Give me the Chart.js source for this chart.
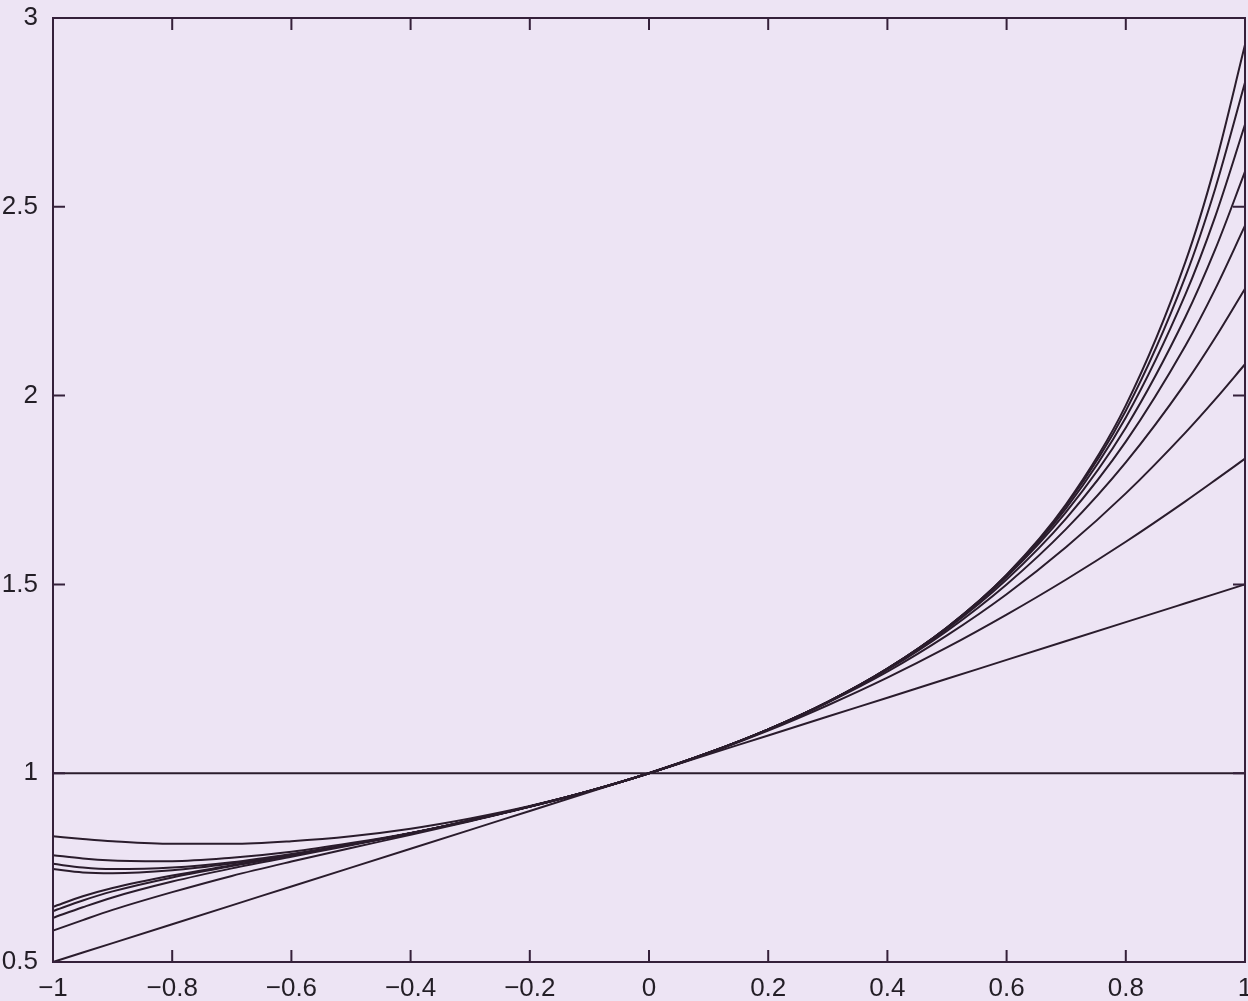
<!DOCTYPE html>
<html>
<head>
<meta charset="utf-8">
<script src="https://cdn.jsdelivr.net/npm/chart.js@4"></script>
<style>
  html, body { margin: 0; padding: 0; background: #ede4f4; }
  #wrap { width: 1248px; height: 1001px; }
</style>
</head>
<body>
<div id="wrap"><canvas id="c"></canvas></div>
<script>
// x positions where the curves were read
const xs = [-1, -0.95, -0.9, -0.8, -0.7, -0.6, -0.5, -0.4, -0.3, -0.2, -0.1, 0,
            0.1, 0.2, 0.3, 0.4, 0.5, 0.6, 0.7, 0.8, 0.9, 0.95, 1];

const curve0 = [1, 1, 1, 1, 1, 1, 1, 1, 1, 1, 1, 1, 1, 1, 1, 1, 1, 1, 1, 1, 1, 1, 1];
const curve1 = [0.5, 0.525, 0.55, 0.6, 0.65, 0.7, 0.75, 0.8, 0.85, 0.9, 0.95, 1, 1.05, 1.1, 1.15, 1.2, 1.25, 1.3, 1.35, 1.4, 1.45, 1.475, 1.5];
const curve2 = [0.833, 0.826, 0.82, 0.813, 0.813, 0.82, 0.833, 0.853, 0.88, 0.913, 0.953, 1, 1.053, 1.113, 1.18, 1.253, 1.333, 1.42, 1.513, 1.613, 1.72, 1.776, 1.833];
const curve3 = [0.583, 0.611, 0.638, 0.685, 0.728, 0.766, 0.802, 0.837, 0.873, 0.911, 0.953, 1, 1.054, 1.115, 1.187, 1.269, 1.365, 1.474, 1.599, 1.741, 1.902, 1.99, 2.083];
const curve4 = [0.783, 0.774, 0.769, 0.767, 0.776, 0.792, 0.815, 0.842, 0.875, 0.912, 0.953, 1, 1.054, 1.116, 1.188, 1.274, 1.377, 1.5, 1.647, 1.823, 2.033, 2.153, 2.283];
const curve5 = [0.617, 0.645, 0.671, 0.713, 0.748, 0.779, 0.809, 0.841, 0.874, 0.912, 0.953, 1, 1.054, 1.116, 1.189, 1.276, 1.382, 1.513, 1.675, 1.878, 2.132, 2.282, 2.45];
const curve6 = [0.76, 0.75, 0.746, 0.75, 0.764, 0.786, 0.812, 0.841, 0.875, 0.912, 0.953, 1, 1.054, 1.116, 1.189, 1.277, 1.385, 1.52, 1.692, 1.915, 2.208, 2.387, 2.593];
const curve7 = [0.635, 0.663, 0.687, 0.724, 0.754, 0.782, 0.811, 0.841, 0.875, 0.912, 0.953, 1, 1.054, 1.116, 1.189, 1.277, 1.386, 1.523, 1.702, 1.942, 2.268, 2.474, 2.718];
const curve8 = [0.746, 0.737, 0.735, 0.743, 0.761, 0.784, 0.811, 0.841, 0.875, 0.912, 0.953, 1, 1.054, 1.116, 1.189, 1.277, 1.386, 1.525, 1.709, 1.96, 2.315, 2.548, 2.829];
const curve9 = [0.646, 0.674, 0.696, 0.729, 0.756, 0.783, 0.811, 0.841, 0.875, 0.912, 0.953, 1, 1.054, 1.116, 1.189, 1.277, 1.386, 1.526, 1.713, 1.974, 2.354, 2.611, 2.929];

const curves = [curve0, curve1, curve2, curve3, curve4, curve5, curve6, curve7, curve8, curve9];

const xTicks = [-1, -0.8, -0.6, -0.4, -0.2, 0, 0.2, 0.4, 0.6, 0.8, 1];
const yTicks = [0.5, 1, 1.5, 2, 2.5, 3];

const ink = "#2a1c2c";
const labelColor = "#231e26";

// frame + inward tick marks on all four sides
const framePlugin = {
  id: "frame",
  afterDraw(chart) {
    const { ctx, chartArea: a, scales } = chart;
    const len = 12;
    ctx.save();
    ctx.strokeStyle = "#35203a";
    ctx.lineWidth = 2;
    ctx.strokeRect(a.left, a.top, a.right - a.left, a.bottom - a.top);
    ctx.beginPath();
    xTicks.forEach(v => {
      const px = scales.x.getPixelForValue(v);
      ctx.moveTo(px, a.bottom); ctx.lineTo(px, a.bottom - len);
      ctx.moveTo(px, a.top); ctx.lineTo(px, a.top + len);
    });
    yTicks.forEach(v => {
      const py = scales.y.getPixelForValue(v);
      ctx.moveTo(a.left, py); ctx.lineTo(a.left + len, py);
      ctx.moveTo(a.right, py); ctx.lineTo(a.right - len, py);
    });
    ctx.stroke();
    ctx.restore();
  }
};

const fmt = v => String(Number(v.toFixed(1))).replace("-", "\u2212");
const tickFont = { family: "'Liberation Sans', Arial, sans-serif", size: 26 };

new Chart(document.getElementById("c"), {
  type: "line",
  data: {
    datasets: curves.map((c, i) => ({
      label: "n=" + i,
      data: xs.map((x, j) => ({ x: x, y: c[j] })),
      borderColor: ink,
      borderWidth: 2,
      pointRadius: 0,
      cubicInterpolationMode: "monotone",
      fill: false,
      clip: false
    }))
  },
  options: {
    responsive: true,
    maintainAspectRatio: false,
    animation: false,
    layout: { padding: { left: 0, right: 3, top: 18, bottom: 0 } },
    plugins: { legend: { display: false }, tooltip: { enabled: false } },
    scales: {
      x: {
        type: "linear",
        min: -1,
        max: 1,
        afterBuildTicks: s => { s.ticks = xTicks.map(v => ({ value: v })); },
        afterFit: s => { s.height = 39; s.paddingLeft = 0; s.paddingRight = 0; },
        grid: { display: false },
        border: { display: false },
        ticks: {
          autoSkip: false,
          maxRotation: 0,
          padding: 3,
          color: labelColor,
          font: tickFont,
          callback: v => fmt(v)
        }
      },
      y: {
        min: 0.5,
        max: 3,
        afterBuildTicks: s => { s.ticks = yTicks.map(v => ({ value: v })); },
        afterFit: s => { s.width = 53; s.paddingTop = 0; s.paddingBottom = 0; },
        grid: { display: false },
        border: { display: false },
        ticks: {
          padding: 7,
          color: labelColor,
          font: tickFont,
          callback: v => fmt(v)
        }
      }
    }
  },
  plugins: [framePlugin]
});
</script>
</body>
</html>
